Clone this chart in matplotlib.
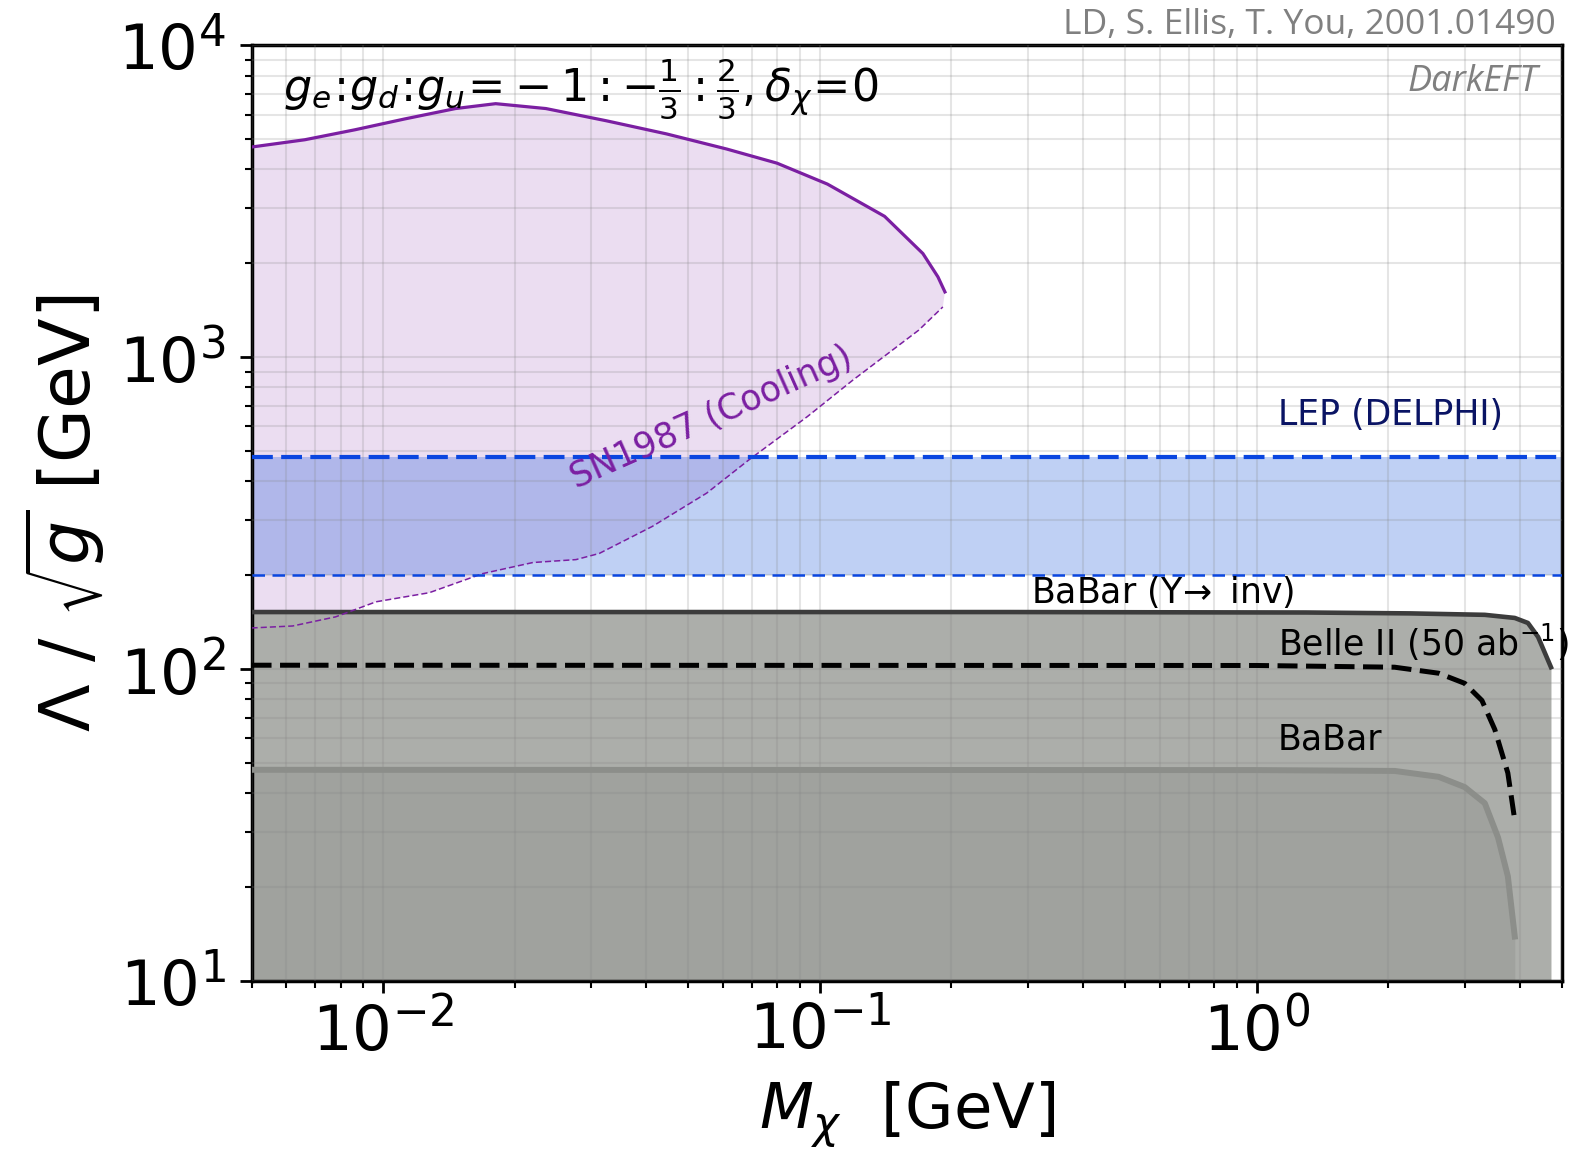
import matplotlib
matplotlib.use('Agg')
import matplotlib.pyplot as plt
import numpy as np

# SN1987 (cooling) region, upper (solid) and lower (dashed) edges
sn_upper_m = [0.005, 0.00662, 0.00862, 0.01123, 0.01465, 0.01811, 0.0236, 0.03244,
              0.04457, 0.06124, 0.0798, 0.1041, 0.1407, 0.1722, 0.1864, 0.1934]
sn_upper_lam = [4720, 4980, 5360, 5810, 6270, 6500, 6270, 5730,
                5200, 4650, 4190, 3590, 2830, 2150, 1810, 1620]
sn_lower_m = [0.005, 0.00621, 0.00779, 0.00964, 0.01276, 0.0169, 0.02203, 0.02766,
              0.03126, 0.04137, 0.0551, 0.06882, 0.0936, 0.1188, 0.1685, 0.1913]
sn_lower_lam = [135.6, 137.6, 147.2, 164.5, 175.9, 202.5, 219.8, 224.6,
                235, 287, 367, 469, 645, 843, 1222, 1450]

# LEP (DELPHI) band
lep_low = 200
lep_high = 480

# BaBar (Upsilon -> inv)
ups_m = [0.005, 0.27, 1.3, 2.25, 3.33, 3.9, 4.18, 4.41, 4.72]
ups_lam = [152.5, 152.5, 152, 151, 149.4, 146, 140.7, 126.9, 101.5]

# Belle II projection (50 ab^-1)
belle_m = [0.005, 1.0, 2.07, 2.61, 2.995, 3.28, 3.51, 3.76, 3.90]
belle_lam = [103, 102.8, 101.5, 97.1, 90.1, 79.4, 64.1, 46.5, 32.8]

# BaBar mono-photon
babar_m = [0.005, 1.0, 2.07, 2.61, 2.995, 3.33, 3.57, 3.76, 3.90]
babar_lam = [47.6, 47.5, 47.2, 45.2, 41.9, 37.2, 28.9, 21.7, 13.9]

sn_col = '#7b1fa2'
lep_col = '#0a46e0'

fig = plt.figure(figsize=(15.78, 11.5), dpi=100)
ax = fig.add_axes([0.1594, 0.1468, 0.8304, 0.8138])
ax.set_xscale('log')
ax.set_yscale('log')
ax.set_xlim(0.005, 5)
ax.set_ylim(10, 1e4)

# SN1987
ax.fill(sn_upper_m + sn_lower_m[::-1], sn_upper_lam + sn_lower_lam[::-1],
        color=sn_col, alpha=0.15, lw=0, zorder=1)
ax.plot(sn_upper_m, sn_upper_lam, color=sn_col, lw=2.3, zorder=4)
ax.plot(sn_lower_m, sn_lower_lam, color=sn_col, lw=1.1, dashes=(4, 2), zorder=4)

# LEP
ax.axhspan(lep_low, lep_high, color='#0046d7', alpha=0.25, lw=0, zorder=1)
ax.axhline(lep_high, color=lep_col, lw=3, dashes=(5, 2), zorder=4)
ax.axhline(lep_low, color=lep_col, lw=1.8, dashes=(5, 3), zorder=4)

# BaBar (Upsilon -> inv)
ax.fill_between(ups_m, 10, ups_lam, color='#acaeaa', lw=0, zorder=2)
ax.plot(ups_m, ups_lam, color='#3c3c3c', lw=3.3, zorder=3)

# BaBar
ax.fill_between(babar_m, 10, babar_lam, color='#a0a29e', lw=0, zorder=2)
ax.plot(babar_m, babar_lam, color='#8c8e8a', lw=4.3, zorder=3)

# Belle II
ax.plot(belle_m, belle_lam, color='black', lw=3.6, dashes=(4, 1.7), zorder=3)

ax.set_axisbelow(False)
ax.grid(True, which='both', color='gray', alpha=0.2, lw=1.5)

ax.tick_params(which='both', direction='out', top=False, right=False, labelsize=45)
ax.tick_params(which='major', length=8.5, width=2)
ax.tick_params(which='minor', length=5, width=1.5)
ax.tick_params(axis='x', which='major', pad=5)
ax.tick_params(axis='y', which='major', pad=10)
for s in ax.spines.values():
    s.set_linewidth(2.5)

ax.set_xlabel(r'$M_\chi$  [GeV]', fontsize=45)
ax.set_ylabel(r'$\Lambda\ /\ \sqrt{g}$ [GeV]', fontsize=50)
ax.xaxis.set_label_coords(0.5, -0.106)
ax.yaxis.set_label_coords(-0.11, 0.5)

ax.text(0.0059, 7260, r'$g_e\!:\!g_d\!:\!g_u\!=\!-1:-\frac{1}{3}:\frac{2}{3},\delta_\chi\!=\!0$',
        fontsize=32, va='center', ha='left', zorder=6)
ax.text(0.0566, 640, 'SN1987 (Cooling)', color=sn_col, fontsize=25, rotation=24,
        ha='center', va='center', zorder=6)
ax.text(1.117, 655, 'LEP (DELPHI)', color='#0a1464', fontsize=25, va='center', zorder=6)
ax.text(0.305, 177, r'BaBar ($\Upsilon\!\rightarrow$ inv)', color='black', fontsize=25,
        va='center', zorder=6)
ax.text(1.117, 122, r'Belle II $(50\ \mathrm{ab}^{-1})$', color='black', fontsize=25,
        va='center', zorder=6)
ax.text(1.117, 59.5, 'BaBar', color='black', fontsize=25, va='center', zorder=6)

fig.text(0.9862, 0.978, 'LD, S. Ellis, T. You, 2001.01490', fontsize=25.5, color='#808080',
         family='Open Sans', ha='right', va='center')
fig.text(0.9747, 0.929, 'DarkEFT', fontsize=26, color='#808080', family='Open Sans',
         style='italic', ha='right', va='center')

plt.savefig('out.png', dpi=100)
